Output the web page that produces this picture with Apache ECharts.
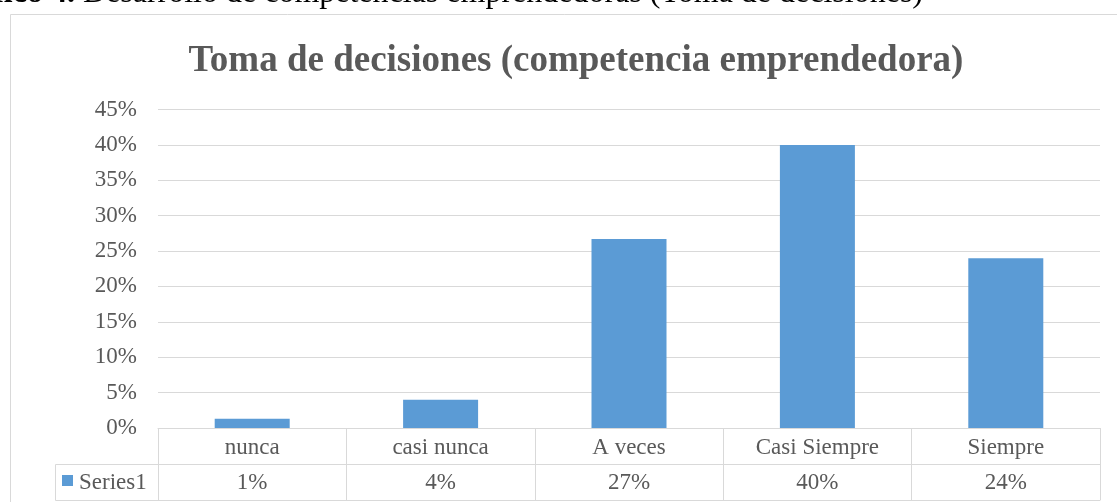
<!DOCTYPE html>
<html>
<head>
<meta charset="utf-8">
<script src="https://cdn.jsdelivr.net/npm/echarts@6/dist/echarts.min.js"></script>
<style>
  html, body { margin: 0; padding: 0; background: #fff; }
  #chart { width: 1117px; height: 502px; }
</style>
</head>
<body>
<div id="chart"></div>
<script>
const categories = ['nunca', 'casi nunca', 'A veces', 'Casi Siempre', 'Siempre']
const values = [1.3, 4.0, 26.7, 40.0, 24.0]
const yTicks = [0, 5, 10, 15, 20, 25, 30, 35, 40, 45]
const seriesName = 'Series1'

const font = 'Liberation Serif'
const gray = '#595959'
const lineGray = '#d9d9d9'
const barBlue = '#5b9bd5'

const chart = echarts.init(document.getElementById('chart'))

const option = {
  animation: false,
  textStyle: { fontFamily: font },
  title: {
    text: 'Toma de decisiones (competencia emprendedora)',
    left: 571,
    top: 38,
    textAlign: 'center',
    textStyle: { fontFamily: font, fontSize: 37, fontWeight: 'bold', color: gray }
  },
  // legend only draws the swatch; its text is the graphic label below
  legend: {
    data: [seriesName],
    left: 62,
    top: 475,
    icon: 'rect',
    itemWidth: 11,
    itemHeight: 11,
    padding: 0,
    formatter: () => '',
    textStyle: { fontSize: 1 }
  },
  grid: { left: 158, right: 17, top: 109.5, bottom: 74, containLabel: false },
  xAxis: [
    {
      type: 'category',
      data: categories,
      axisLine: { show: true, lineStyle: { color: lineGray, width: 1 } },
      axisTick: { show: true, length: 72, alignWithLabel: false, lineStyle: { color: lineGray } },
      axisLabel: { margin: 8, fontFamily: font, fontSize: 23, color: gray }
    },
    {
      type: 'category',
      position: 'bottom',
      offset: 36,
      data: values.map(v => Math.round(v) + '%'),
      axisLine: { show: true, lineStyle: { color: lineGray, width: 1 } },
      axisTick: { show: false },
      axisLabel: { margin: 7, fontFamily: font, fontSize: 23, color: gray }
    },
    {
      type: 'category',
      position: 'bottom',
      offset: 72,
      data: categories,
      axisLine: { show: true, lineStyle: { color: lineGray, width: 1 } },
      axisTick: { show: false },
      axisLabel: { show: false }
    }
  ],
  yAxis: {
    type: 'value',
    min: yTicks[0],
    max: yTicks[yTicks.length - 1],
    interval: 5,
    axisLine: { show: false },
    axisTick: { show: false },
    splitLine: { lineStyle: { color: lineGray, width: 1 } },
    axisLabel: {
      margin: 21,
      fontFamily: font,
      fontSize: 23,
      color: gray,
      formatter: v => v + '%'
    }
  },
  series: [
    {
      name: seriesName,
      type: 'bar',
      data: values,
      barWidth: 75,
      itemStyle: { color: barBlue }
    }
  ],
  graphic: [
    {
      type: 'rect',
      shape: { x: 10.5, y: 14.5, width: 1300, height: 700 },
      style: { fill: 'none', stroke: lineGray, lineWidth: 1 },
      silent: true,
      z: -10
    },
    // legend cell of the data table
    {
      type: 'polyline',
      shape: { points: [[158, 464.5], [55.5, 464.5], [55.5, 500.5], [158, 500.5]] },
      style: { fill: 'none', stroke: lineGray, lineWidth: 1 },
      silent: true
    },
    {
      type: 'text',
      x: 79,
      y: 483,
      style: {
        text: seriesName,
        align: 'left',
        verticalAlign: 'middle',
        fill: gray,
        fontFamily: font,
        fontSize: 23
      },
      silent: true
    },
    {
      type: 'text',
      x: 923,
      y: 10,
      style: {
        text: '{b|Gráfico 4.} Desarrollo de competencias emprendedoras (Toma de decisiones)',
        align: 'right',
        verticalAlign: 'bottom',
        fill: '#000',
        fontFamily: font,
        fontSize: 32,
        rich: { b: { fontWeight: 'bold', fontFamily: font, fontSize: 32, fill: '#000' } }
      },
      silent: true
    }
  ]
}

chart.setOption(option)
</script>
</body>
</html>
